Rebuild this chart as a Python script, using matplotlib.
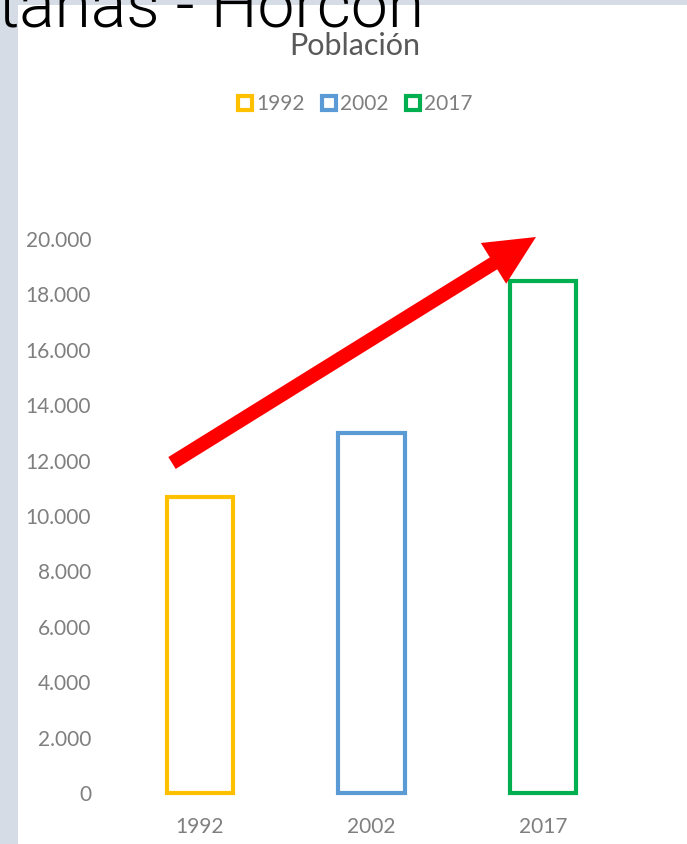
import matplotlib
matplotlib.use("Agg")
import matplotlib.pyplot as plt
from matplotlib.patches import FancyArrow, Rectangle
from matplotlib.ticker import FuncFormatter
from matplotlib.lines import Line2D

categories = ["1992", "2002", "2017"]
values = [10700, 13000, 18500]
colors = ["#FFC000", "#5B9BD5", "#00B050"]
yticks = list(range(0, 20001, 2000))

W, H = 687, 844
fig = plt.figure(figsize=(W / 100, H / 100), dpi=100)
fig.patch.set_facecolor("white")

# background decorations (pixel space)
bg = fig.add_axes([0, 0, 1, 1], zorder=-5)
bg.set_xlim(0, W); bg.set_ylim(H, 0); bg.axis("off")
bg.add_patch(Rectangle((0, 0), 18, H, color="#D6DCE5", lw=0))
bg.add_patch(Rectangle((0, 0), W, 5, color="#D6DCE5", lw=0))

FONT = ["Lato", "DejaVu Sans"]
GRAY = "#7F7F7F"

ax = fig.add_axes([114 / W, 1 - 793 / H, (629 - 114) / W, (793 - 239) / H])
x = list(range(len(categories)))
for xi, v, c, lab in zip(x, values, colors, categories):
    ax.bar(xi, v, width=0.385, facecolor="none", edgecolor=c, linewidth=3.0,
           label=lab, clip_on=False)
ax.set_xlim(-0.5, 2.5)
ax.set_ylim(0, 20000)
ax.set_yticks(yticks)
ax.yaxis.set_major_formatter(FuncFormatter(lambda v, p: f"{int(v):,}".replace(",", ".")))
ax.set_xticks(x)
ax.set_xticklabels(categories)
for s in ax.spines.values():
    s.set_visible(False)
ax.tick_params(length=0, colors=GRAY, labelsize=15)
ax.tick_params(axis="y", pad=16.5)
ax.tick_params(axis="x", pad=17)
for t in ax.get_xticklabels() + ax.get_yticklabels():
    t.set_fontfamily(FONT)
    t.set_color(GRAY)

# legend
handles = [Line2D([], [], marker="s", linestyle="none", markersize=9.5,
                  markerfacecolor="white", markeredgecolor=c, markeredgewidth=3)
           for c in colors]
leg = fig.legend(handles, categories, loc="center", bbox_to_anchor=(356 / W, 1 - 104 / H),
                 ncol=3, frameon=False, handlelength=0.55, handletextpad=0.25,
                 columnspacing=0.9, prop={"family": FONT, "size": 15})
for t in leg.get_texts():
    t.set_color(GRAY)

# titles
fig.text(355 / W, 1 - 46 / H, "Población", ha="center", va="center",
         fontsize=22, color="#595959", family=FONT)
fig.text(-2 / W, 1 - 28 / H, "tanas - Horcón", ha="left", va="baseline",
         fontsize=47.5, color="black", family=["Roboto", "Lato", "DejaVu Sans"], weight=300)

# red arrow overlay (pixel space)
ov = fig.add_axes([0, 0, 1, 1], zorder=5)
ov.set_xlim(0, W); ov.set_ylim(H, 0); ov.axis("off")
x0, y0, x1, y1 = 172, 463, 536, 237
ov.add_patch(FancyArrow(x0, y0, x1 - x0, y1 - y0, width=14, head_width=48,
                        head_length=50, length_includes_head=True,
                        color="#FF0000", lw=0))

fig.savefig("out.png", dpi=100)
